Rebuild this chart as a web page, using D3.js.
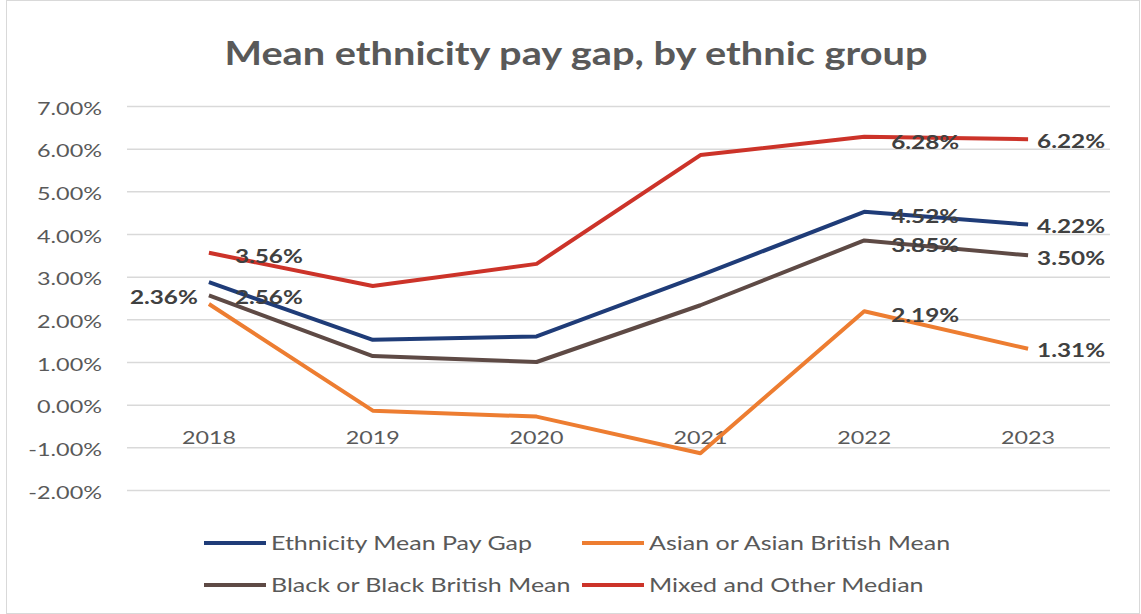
<!DOCTYPE html>
<html>
<head>
<meta charset="utf-8">
<script src="https://cdn.jsdelivr.net/npm/d3@7"></script>
<style>
  body { margin: 0; background: #fff; }
  text { font-family: Lato, "Open Sans", sans-serif; }
</style>
</head>
<body>
<svg width="1141" height="614"></svg>
<script>
// data
const years = ['2018', '2019', '2020', '2021', '2022', '2023'];
const ethnicityMean = [2.87, 1.52, 1.60, 3.03, 4.52, 4.22];
const asianMean = [2.36, -0.14, -0.28, -1.14, 2.19, 1.31];
const blackMean = [2.56, 1.14, 1.00, 2.33, 3.85, 3.50];
const mixedMedian = [3.56, 2.78, 3.30, 5.85, 6.28, 6.22];
const yTicks = [-2, -1, 0, 1, 2, 3, 4, 5, 6, 7];

// which points carry a label, and where the label sits
const series = [
    { name: 'Ethnicity Mean Pay Gap', values: ethnicityMean, color: '#1f3c78',
      labels: [{ i: 4, dx: 27, dy: 5 }, { i: 5, dx: 9, dy: 2 }] },
    { name: 'Asian or Asian British Mean', values: asianMean, color: '#ed7d31',
      labels: [{ i: 0, dx: -11, dy: -7, end: true }, { i: 4, dx: 27, dy: 4 }, { i: 5, dx: 9, dy: 2 }] },
    { name: 'Black or Black British Mean', values: blackMean, color: '#5e4a45',
      labels: [{ i: 0, dx: 26, dy: 2 }, { i: 4, dx: 27, dy: 5 }, { i: 5, dx: 9, dy: 3 }] },
    { name: 'Mixed and Other Median', values: mixedMedian, color: '#cc3329',
      labels: [{ i: 0, dx: 26, dy: 4 }, { i: 4, dx: 27, dy: 6 }, { i: 5, dx: 9, dy: 2 }] }
];

const svg = d3.select('svg');
const width = +svg.attr('width');
const height = +svg.attr('height');
const margin = { top: 106, right: 31, bottom: 124, left: 127 };
const innerWidth = width - margin.left - margin.right;
const innerHeight = height - margin.top - margin.bottom;

// the source font is wider than anything installed: stretch text to match
const widen = (sel, k) => sel.each(function () {
    const len = this.getComputedTextLength();
    d3.select(this).attr('textLength', len * k).attr('lengthAdjust', 'spacingAndGlyphs');
});
const ratio = (sample, target, size, weight) => {
    const t = svg.append('text').style('font-size', size + 'px').style('font-weight', weight).text(sample);
    const len = t.node().getComputedTextLength();
    t.remove();
    return target / len;
};
const kTick = ratio('7.00%', 65, 18, 'normal');
const kYear = ratio('2018', 54, 18, 'normal');
const kLabel = ratio('6.22%', 68, 19, 'bold');
const kLegend = ratio('Ethnicity Mean Pay Gap', 261, 19, 'normal');
const kTitle = ratio('Mean ethnicity pay gap, by ethnic group', 703, 33, 'bold');

// chart border
svg.append('rect')
    .attr('x', 6.5).attr('y', 0.5)
    .attr('width', width - 8).attr('height', height - 1)
    .attr('fill', 'none')
    .attr('stroke', '#d9d9d9');

const g = svg.append('g')
    .attr('transform', `translate(${margin.left},${margin.top})`);

const xScale = d3.scaleBand().domain(years).range([0, innerWidth]);
const yScale = d3.scaleLinear().domain([-2, 7]).range([innerHeight, 0]);
const xPos = i => xScale(years[i]) + xScale.bandwidth() / 2;

// gridlines
g.append('g')
    .call(d3.axisLeft(yScale).tickValues(yTicks).tickSize(-innerWidth).tickFormat(''))
    .call(s => s.select('.domain').remove())
    .call(s => s.selectAll('line').attr('stroke', '#d9d9d9').attr('stroke-width', 1.5));

// y tick labels
g.append('g')
    .call(d3.axisLeft(yScale).tickValues(yTicks).tickSize(0).tickPadding(25)
        .tickFormat(d => d.toFixed(2) + '%'))
    .call(s => s.select('.domain').remove())
    .call(s => s.selectAll('text')
        .attr('fill', '#595959').attr('dy', '0.45em')
        .style('font-size', '18px')
        .call(widen, kTick));

// x tick labels sit just under the zero line
g.append('g')
    .attr('transform', `translate(0,${yScale(0)})`)
    .call(d3.axisBottom(xScale).tickSize(0).tickPadding(27))
    .call(s => s.select('.domain').remove())
    .call(s => s.selectAll('text')
        .attr('fill', '#595959')
        .style('font-size', '18px')
        .call(widen, kYear));

const line = d3.line()
    .x((d, i) => xPos(i))
    .y(d => yScale(d));

series.forEach(s => {
    g.append('path')
        .datum(s.values)
        .attr('fill', 'none')
        .attr('stroke', s.color)
        .attr('stroke-width', 4)
        .attr('stroke-linejoin', 'round')
        .attr('d', line);
});

// data labels
series.forEach(s => {
    s.labels.forEach(l => {
        g.append('text')
            .attr('x', xPos(l.i) + l.dx)
            .attr('y', yScale(s.values[l.i]) + l.dy)
            .attr('dy', '0.35em')
            .attr('text-anchor', l.end ? 'end' : 'start')
            .attr('fill', '#404040')
            .style('font-size', '19px')
            .style('font-weight', 'bold')
            .text(s.values[l.i].toFixed(2) + '%')
            .call(widen, kLabel);
    });
});

// title
svg.append('text')
    .attr('x', 576)
    .attr('y', 65)
    .attr('text-anchor', 'middle')
    .attr('fill', '#595959')
    .style('font-size', '33px')
    .style('font-weight', 'bold')
    .text('Mean ethnicity pay gap, by ethnic group')
    .call(widen, kTitle);

// legend, two rows of two
const legend = svg.append('g');
series.forEach((s, i) => {
    const lx = i % 2 === 0 ? 204 : 582;
    const ly = i < 2 ? 543 : 585;
    legend.append('line')
        .attr('x1', lx).attr('x2', lx + 62)
        .attr('y1', ly).attr('y2', ly)
        .attr('stroke', s.color)
        .attr('stroke-width', 4);
    legend.append('text')
        .attr('x', lx + 67)
        .attr('y', ly)
        .attr('dy', '0.35em')
        .attr('fill', '#595959')
        .style('font-size', '19px')
        .text(s.name)
        .call(widen, kLegend);
});
</script>
</body>
</html>
